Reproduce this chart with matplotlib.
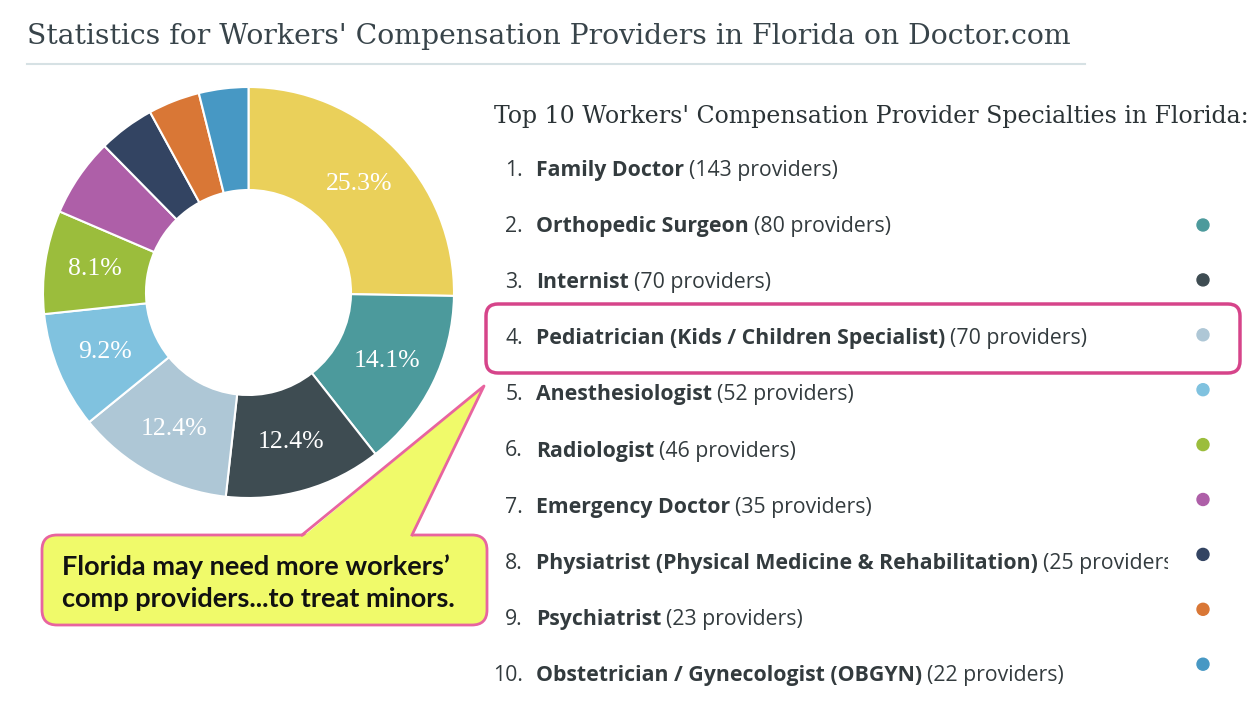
import matplotlib.pyplot as plt
from matplotlib.patches import FancyBboxPatch, Polygon, Circle

# Data
specialties = ['Family Doctor', 'Orthopedic Surgeon', 'Internist',
               'Pediatrician (Kids / Children Specialist)', 'Anesthesiologist',
               'Radiologist', 'Emergency Doctor',
               'Physiatrist (Physical Medicine & Rehabilitation)', 'Psychiatrist',
               'Obstetrician / Gynecologist (OBGYN)']
providers = [143, 80, 70, 70, 52, 46, 35, 25, 23, 22]
colors = ['#EAD05A', '#4C9A9C', '#3E4C52', '#AEC7D6', '#80C2DF',
          '#9BBD3C', '#AE5FA8', '#334462', '#D97736', '#4798C4']

title = "Statistics for Workers' Compensation Providers in Florida on Doctor.com"
subtitle = "Top 10 Workers' Compensation Provider Specialties in Florida:"
callout = ["Florida may need more workers\u2019", "comp providers...to treat minors."]

TEXT = '#333b3e'
PINK = '#D6448A'


def fit_size(fig, txt, width):
    # scale font so the text covers the given pixel width
    r = fig.canvas.get_renderer()
    w = txt.get_window_extent(r).width
    txt.set_fontsize(txt.get_fontsize() * width / w)


fig = plt.figure(figsize=(12.6, 7.28), dpi=100)
ax = fig.add_axes([0, 0, 1, 1])

# Donut
wedges, _, pcts = ax.pie(
    providers, colors=colors, center=(248.5, 292.5), radius=205.5,
    startangle=-90, counterclock=True,
    autopct=lambda p: f'{p:.1f}%' if p > 7 else '', pctdistance=0.755,
    wedgeprops=dict(width=103, edgecolor='white', linewidth=1.5),
    textprops=dict(color='white', family='Liberation Serif', fontsize=18.5))
ax.set_xlim(0, 1260)
ax.set_ylim(728, 0)
ax.set_aspect('equal')
ax.axis('off')

# Title and rule
t = ax.text(27, 36, title, family='DejaVu Serif', fontsize=22,
            color='#38444a', va='center')
fit_size(fig, t, 1045)
ax.plot([27, 1085], [64, 64], color='#d6e1e4', lw=1.5)

s = ax.text(494, 116, subtitle, family='DejaVu Serif', fontsize=16,
            color='#2b3336', va='center')
fit_size(fig, s, 754)

# List (own axes so the long line gets clipped)
lax = fig.add_axes([480 / 1260, 0, 688 / 1260, 1])
lax.set_xlim(480, 1168)
lax.set_ylim(728, 0)
lax.axis('off')

r = fig.canvas.get_renderer()
probe = lax.text(536, 168, specialties[0], family='Open Sans', weight='bold',
                 fontsize=14)
fit_size(fig, probe, 149)
fs = probe.get_fontsize()
probe.remove()

for i, (name, n) in enumerate(zip(specialties, providers)):
    y = 170.5 + i * 56.1
    lax.text(523, y, f'{i + 1}.', ha='right', va='center', family='Open Sans',
             fontsize=fs, color=TEXT)
    b = lax.text(536, y, name, va='center', family='Open Sans', weight='bold',
                 fontsize=fs, color=TEXT, clip_on=True)
    x1 = b.get_window_extent(r).x1
    lax.text(x1 + 5, y, f'({n} providers)', va='center', family='Open Sans',
             fontsize=fs, color=TEXT, clip_on=True)
    if i > 0:
        ax.add_patch(Circle((1203, 225 + (i - 1) * 54.9), 6, color=colors[i]))

# Highlight around pediatricians
ax.add_patch(FancyBboxPatch((486, 304), 754, 69,
                            boxstyle='round,pad=0,rounding_size=12',
                            fc='none', ec=PINK, lw=2.5, zorder=5))

# Callout bubble
ax.add_patch(FancyBboxPatch((42, 535), 445, 90,
                            boxstyle='round,pad=0,rounding_size=15',
                            fc='#F0FA6A', ec='#E8649F', lw=2, zorder=6))
ax.add_patch(Polygon([(302, 537.5), (484, 386), (412, 537.5)],
                     closed=True, fc='#F0FA6A', ec='none', zorder=7))
ax.plot([302, 484, 412], [535, 386, 535], color='#E8649F', lw=2, zorder=8)
c1 = ax.text(62, 567, callout[0], family='Lato', weight='bold', fontsize=17,
             color='#111111', va='center', zorder=9)
c2 = ax.text(62, 599, callout[1], family='Lato', weight='bold', fontsize=17,
             color='#111111', va='center', zorder=9)
fit_size(fig, c2, 393)
c1.set_fontsize(c2.get_fontsize())

fig.savefig('out.png', dpi=100)
plt.close(fig)
